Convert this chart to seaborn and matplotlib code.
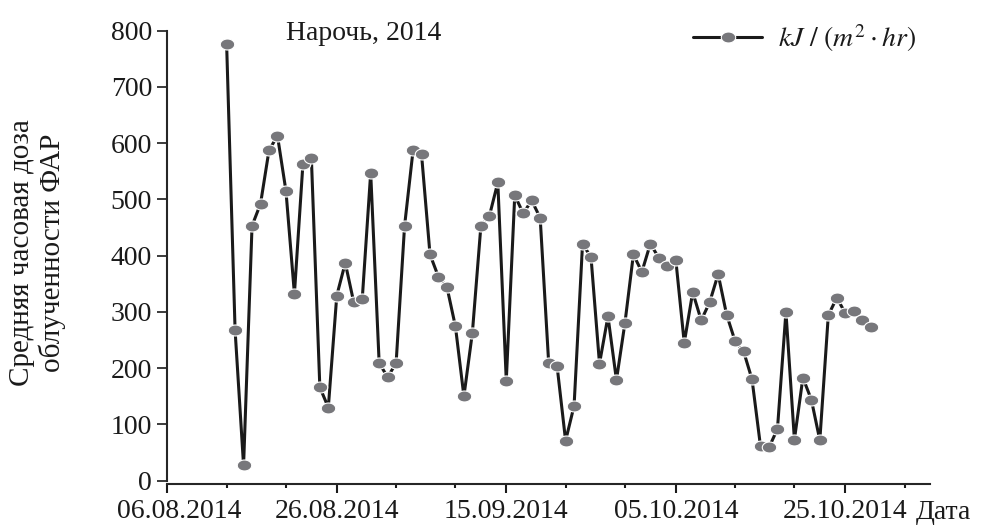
import numpy as np
import pandas as pd
import matplotlib
matplotlib.use("Agg")
import matplotlib.pyplot as plt
import matplotlib.dates as mdates
import seaborn as sns
from matplotlib.path import Path
from matplotlib.transforms import ScaledTranslation

# Daily mean hourly PAR dose, Naroch, 2014
first_day = "2014-08-13"
dose = [776, 267, 27, 453, 492, 587, 613, 515, 332, 562,
        574, 166, 130, 329, 387, 317, 322, 547, 209, 184,
        209, 453, 587, 580, 402, 362, 344, 274, 150, 263,
        452, 470, 530, 178, 507, 475, 498, 467, 210, 203,
        71, 133, 421, 397, 208, 292, 179, 280, 402, 371,
        421, 396, 381, 393, 245, 335, 285, 317, 367, 295,
        248, 230, 180, 61, 59, 92, 300, 73, 183, 144,
        72, 294, 325, 298, 302, 286, 273]
major_ticks = ["2014-08-06", "2014-08-26", "2014-09-15", "2014-10-05", "2014-10-25"]
x_range = ["2014-08-06", "2014-11-04"]
y_ticks = [0, 100, 200, 300, 400, 500, 600, 700, 800]

title_text = "Нарочь, 2014"
series_label = r"$kJ\ /\ (m^{2}\cdot hr)$"
y_label = "Средняя часовая доза\nоблученности ФАР"
x_label = "Дата"

df = pd.DataFrame({
    "date": pd.date_range(first_day, periods=len(dose), freq="D"),
    "dose": dose,
})

sns.set_theme(style="ticks")
plt.rcParams["font.family"] = ["Liberation Serif", "DejaVu Serif"]
plt.rcParams["mathtext.fontset"] = "stix"
plt.rcParams["axes.linewidth"] = 1.5

ink = "#1a1a1a"
fig = plt.figure(figsize=(9.85, 5.25), dpi=100)
ax = fig.add_axes([167.3 / 985, 1 - 483.5 / 525, (930 - 167.3) / 985, (483.5 - 30.5) / 525])

# slightly flattened ellipse used as point marker
t = np.linspace(0, 2 * np.pi, 64)
ellipse = Path(np.column_stack([np.cos(t), 0.76 * np.sin(t)]), closed=True)

sns.lineplot(data=df, x="date", y="dose", ax=ax, color=ink, linewidth=2.2,
             marker=ellipse, markersize=10.4, markerfacecolor="#77777b",
             markeredgecolor="white", markeredgewidth=0.8, label=series_label,
             legend=False)

majors = pd.to_datetime(major_ticks)
minors = [d + pd.Timedelta(days=k) for d in majors for k in (7, 14)]
ax.set_xticks(majors)
ax.set_xticks(minors, minor=True)
ax.xaxis.set_major_formatter(mdates.DateFormatter("%d.%m.%Y"))
ax.set_yticks(y_ticks)

# limits after the ticks so the tick setters cannot widen the view
ax.set_xlim(pd.Timestamp(x_range[0]), pd.Timestamp(x_range[1]))
ax.set_ylim(-5, 800)

for s in ("top", "right"):
    ax.spines[s].set_visible(False)
ax.spines["left"].set_bounds(0, 800)

ax.tick_params(axis="x", which="major", length=6.5, width=1.5, pad=4.5, labelsize=20, color=ink, labelcolor=ink)
ax.tick_params(axis="x", which="minor", length=3, width=1.5, color=ink)
ax.tick_params(axis="y", which="major", length=7, width=1.2, pad=4, labelsize=20, color=ink, labelcolor=ink)
ax.set_xlabel("")
ax.set_ylabel("")

# nudge the first date label to the right
first = ax.get_xticklabels()[0]
first.set_transform(first.get_transform() + ScaledTranslation(12 / 100, 0, fig.dpi_scale_trans))

fig.text(916 / 985, 1 - 519 / 525, x_label, fontsize=20, va="baseline", ha="left", color=ink)
fig.text(37.5 / 985, 1 - 253 / 525, y_label, fontsize=21, rotation=90, ha="center", va="center",
         multialignment="center", linespacing=1.15, color=ink)
fig.text(364 / 985, 1 - 40 / 525, title_text, fontsize=20, ha="center", va="baseline", color=ink)

leg = ax.legend(loc="center left", bbox_to_anchor=(693 / 985, 1 - 38 / 525),
                bbox_transform=fig.transFigure, frameon=False, fontsize=20,
                handlelength=2.5, handletextpad=0.55, borderpad=0, borderaxespad=0, numpoints=1)
for txt in leg.get_texts():
    txt.set_color(ink)

fig.savefig("out.png", dpi=100, facecolor="white")
